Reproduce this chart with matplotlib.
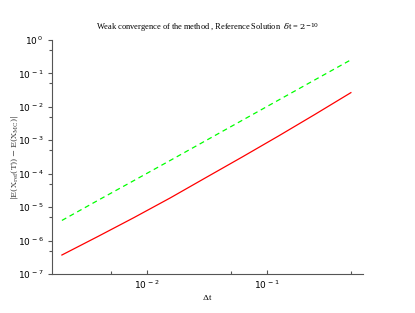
import matplotlib
matplotlib.use("Agg")
import matplotlib.pyplot as plt
from matplotlib.ticker import FixedLocator, NullFormatter

# time steps 2^-9 ... 2^-1
dt = [0.001953, 0.003906, 0.007813, 0.015625, 0.03125, 0.0625, 0.125, 0.25, 0.5]
# weak error
err = [3.7e-7, 1.33e-6, 4.9e-6, 1.89e-5, 7.8e-5, 3.2e-4, 1.35e-3, 5.9e-3, 2.66e-2]
# reference slope-2 line
ref = [4.0e-6, 1.6e-5, 6.3e-5, 2.5e-4, 1.0e-3, 4.0e-3, 1.6e-2, 6.4e-2, 0.255]

xticks = [1e-2, 1e-1]
xtick_labels = [r'$10^{\,-2}$', r'$10^{\,-1}$']
yticks = [10.0 ** k for k in range(-7, 1)]
ytick_labels = [r'$10^{\,%d}$' % k for k in range(-7, 1)]

plt.rcParams['mathtext.fontset'] = 'dejavusans'

fig = plt.figure(figsize=(4.15, 3.13), dpi=100)
ax = fig.add_axes([0.1253, 0.1246, 0.7494, 0.7476])

ax.plot(dt, ref, color='#00ff00', linestyle=(0, (4, 3)), linewidth=0.9)
ax.plot(dt, err, color='red', linewidth=0.9)

ax.set_xscale('log')
ax.set_yscale('log')
ax.set_xlim(1.615e-3, 0.631)
ax.set_ylim(1e-7, 1)

ax.xaxis.set_major_locator(FixedLocator(xticks))
ax.set_xticklabels(xtick_labels)
ax.xaxis.set_minor_locator(FixedLocator([5e-3, 5e-2, 5e-1]))
ax.xaxis.set_minor_formatter(NullFormatter())
ax.yaxis.set_major_locator(FixedLocator(yticks))
ax.set_yticklabels(ytick_labels)
ax.yaxis.set_minor_locator(FixedLocator([5 * 10.0 ** k for k in range(-7, 0)]))
ax.yaxis.set_minor_formatter(NullFormatter())

for s in ['top', 'right']:
    ax.spines[s].set_visible(False)
for s in ['left', 'bottom']:
    ax.spines[s].set_color('#555555')
    ax.spines[s].set_linewidth(0.8)

ax.tick_params(axis='both', which='major', labelsize=6.5, length=3, width=0.8,
               color='#555555', pad=3)
ax.tick_params(axis='both', which='minor', length=2, width=0.8, color='#555555')
ax.tick_params(axis='x', which='both', direction='in')

ax.set_xlabel(r'$\Delta$t', fontsize=6, family='Liberation Serif', labelpad=2,
              math_fontfamily='dejavuserif')
ax.set_ylabel(r'$\mathrm{|E(X_{ref}(T)) - E(X_{MC})|}$', fontsize=6, color='#444444',
              math_fontfamily='dejavuserif')
ax.yaxis.set_label_coords(-0.103, 0.5)
ax.set_title(r'Weak convergence of the method , Reference Solution  $\delta$t = $2^{-10}$',
             fontsize=6, family='Liberation Serif', pad=7,
             math_fontfamily='dejavuserif')

fig.savefig('out.png', dpi=100)
